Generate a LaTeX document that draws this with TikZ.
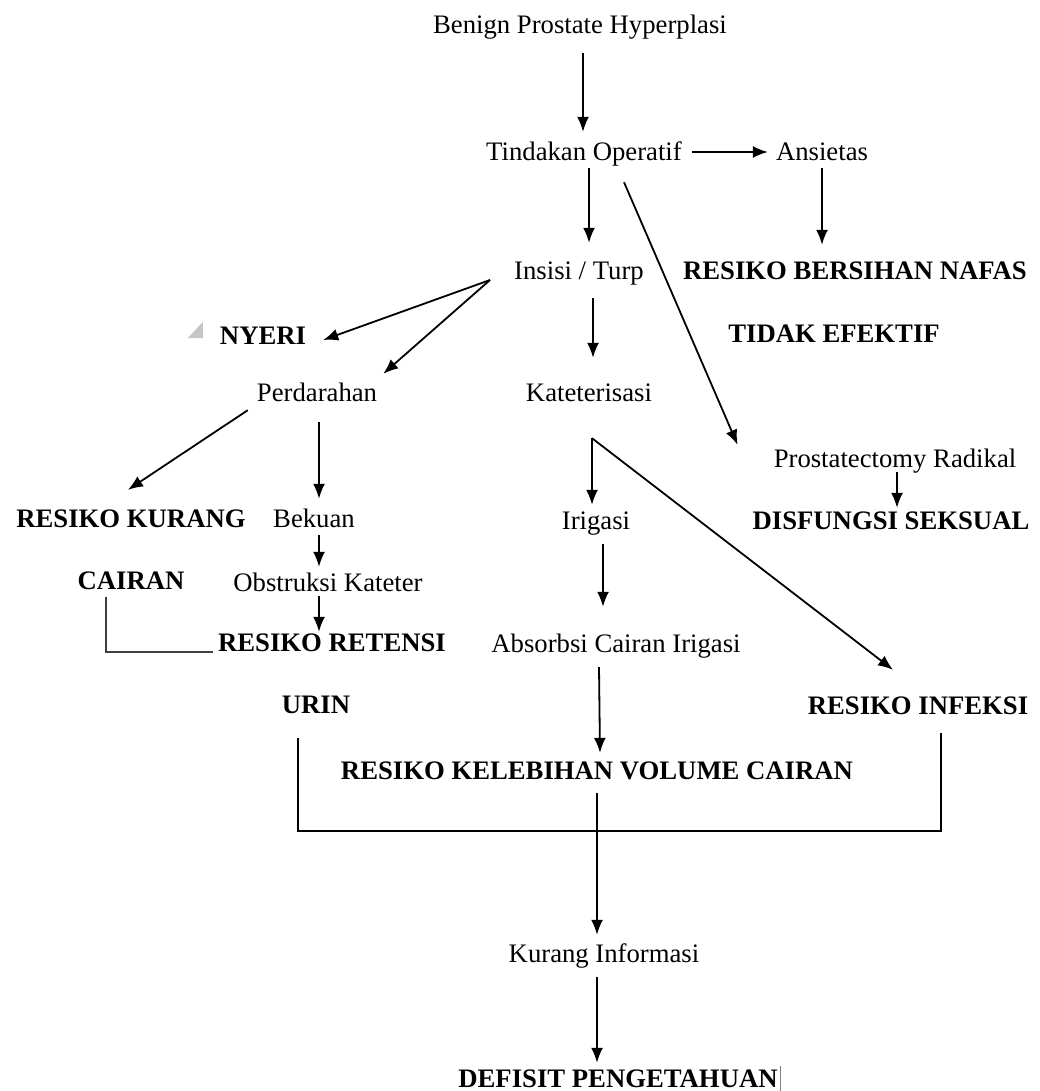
\documentclass[tikz,border=0pt]{standalone}
\usepackage{fontspec}
\setmainfont{Liberation Serif}
\usetikzlibrary{arrows.meta}

\tikzset{
    txt/.style={inner sep=0pt, text height=18pt, text depth=6pt, font=\fontsize{26.7pt}{32pt}\selectfont},
    dxn/.style={txt, font=\fontsize{26.7pt}{32pt}\selectfont\bfseries},
    arr/.style={-{Latex[length=15pt,width=12pt]}, line width=1.8pt, draw=black},
    ln/.style={line width=1.8pt, draw=black}
}

\begin{document}
\begin{tikzpicture}[x=1pt, y=-1pt]
    \useasboundingbox (0,0) rectangle (1039,1091);

    % upper part
    \node[txt] (bph) at (580,28) {Benign Prostate Hyperplasi};
    \node[txt] (tindakan) at (584,155) {Tindakan Operatif};
    \node[txt] (ansietas) at (822,155) {Ansietas};
    \node[dxn] (bersihan) at (855,273) {RESIKO BERSIHAN NAFAS};
    \node[dxn] (tidak) at (834,336) {TIDAK EFEKTIF};
    \node[txt] (insisi) at (579,273) {Insisi / Turp};
    \node[dxn] (nyeri) at (263,338) {NYERI};
    \node[txt] (perdarahan) at (317,395) {Perdarahan};
    \node[txt] (kateter) at (589,395) {Kateterisasi};

    % left branch
    \node[dxn] (kurang) at (131,521) {RESIKO KURANG};
    \node[dxn] (cairan) at (131,583) {CAIRAN};
    \node[txt] (bekuan) at (314,521) {Bekuan};
    \node[txt] (obstruksi) at (328,585) {Obstruksi Kateter};
    \node[dxn] (retensi) at (332,645) {RESIKO RETENSI};
    \node[dxn] (urin) at (316,707) {URIN};

    % middle and right branch
    \node[txt] (irigasi) at (596,523) {Irigasi};
    \node[txt] (absorbsi) at (616,646) {Absorbsi Cairan Irigasi};
    \node[txt] (prostatectomy) at (895,461) {Prostatectomy Radikal};
    \node[dxn] (disfungsi) at (891,523) {DISFUNGSI SEKSUAL};
    \node[dxn] (infeksi) at (918,708) {RESIKO INFEKSI};
    \node[dxn] (kelebihan) at (597,773) {RESIKO KELEBIHAN VOLUME CAIRAN};

    % bottom
    \node[txt] (kurinfo) at (604,956) {Kurang Informasi};
    \node[dxn] (defisit) at (618,1081) {DEFISIT PENGETAHUAN};

    % marks
    \fill[gray!45] ([xshift=-17pt]nyeri.west) -- ++(0,-16) -- ++(-15,16) -- cycle;
    \draw[line width=0.6pt, gray] ([xshift=2pt,yshift=15pt]defisit.east) -- ([xshift=2pt,yshift=-11pt]defisit.east);

    % connectors
    \draw[arr] ([xshift=3pt,yshift=-13pt]bph.south) -- ([xshift=-1pt,yshift=11pt]tindakan.north);
    \draw[arr] ([xshift=10pt,yshift=3pt]tindakan.east) -- ([xshift=-8pt,yshift=3pt]ansietas.west);
    \draw[arr] ([yshift=-1pt]ansietas.south) -- ([xshift=-33pt,yshift=16pt]bersihan.north);
    \draw[arr] ([xshift=5pt,yshift=-1pt]tindakan.south) -- ([xshift=10pt,yshift=18pt]insisi.north);
    \draw[arr] ([xshift=40pt,yshift=-15pt]tindakan.south) -- ([xshift=-36pt,yshift=4pt]prostatectomy.north west);

    \draw[arr] ([xshift=-24pt,yshift=-7pt]insisi.west) -- ([xshift=17pt,yshift=-2pt]nyeri.east);
    \draw[arr] ([xshift=-24pt,yshift=-7pt]insisi.west) -- ([xshift=6pt,yshift=9pt]perdarahan.north east);
    \draw[arr] ([xshift=14pt,yshift=-13pt]insisi.south) -- ([xshift=4pt,yshift=25pt]kateter.north);

    \draw[arr] ([xshift=-9pt,yshift=-3pt]perdarahan.south west) -- ([xshift=-3pt,yshift=19pt]kurang.north);
    \draw[arr] ([xshift=2pt,yshift=-15pt]perdarahan.south) -- ([xshift=5pt,yshift=10pt]bekuan.north);
    \draw[arr] ([xshift=5pt,yshift=-2pt]bekuan.south) -- ([xshift=-9pt,yshift=6pt]obstruksi.north);
    \draw[arr] ([xshift=-9pt,yshift=1pt]obstruksi.south) -- ([xshift=-13pt,yshift=1pt]retensi.north);
    \draw[ln, draw=black!75] ([xshift=-25pt,yshift=-2pt]cairan.south) |- ([xshift=-5pt,yshift=-7pt]retensi.west);

    \draw[arr] ([xshift=3pt,yshift=-31pt]kateter.south) -- ([xshift=-4pt,yshift=6pt]irigasi.north);
    \draw[arr] ([xshift=3pt,yshift=-31pt]kateter.south) -- ([xshift=-25pt,yshift=26pt]infeksi.north);
    \draw[arr] ([xshift=7pt,yshift=-9pt]irigasi.south) -- ([xshift=-13pt,yshift=27pt]absorbsi.north);
    \draw[arr] ([xshift=-17pt,yshift=-9pt]absorbsi.south) -- ([xshift=3pt,yshift=8pt]kelebihan.north);
    \draw[arr] ([xshift=2pt,yshift=1pt]prostatectomy.south) -- ([xshift=6pt,yshift=3pt]disfungsi.north);

    \draw[ln] ([xshift=-18pt,yshift=-19pt]urin.south) -- ++(0,93) -| ([xshift=23pt,yshift=-13pt]infeksi.south);
    \draw[arr] ([yshift=-8pt]kelebihan.south) -- ([xshift=-7pt,yshift=9pt]kurinfo.north);
    \draw[arr] ([xshift=-7pt,yshift=-9pt]kurinfo.south) -- ([xshift=-21pt,yshift=6pt]defisit.north);
\end{tikzpicture}
\end{document}
